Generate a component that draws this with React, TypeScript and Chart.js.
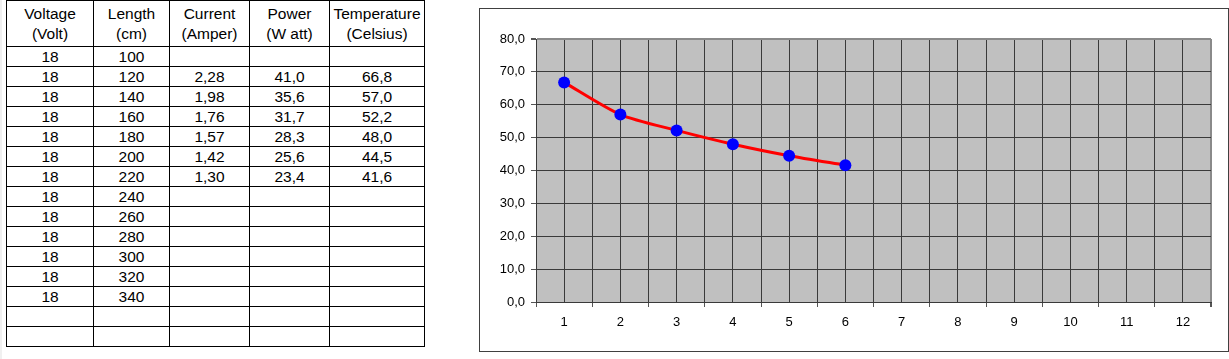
import React, { useEffect, useRef } from "react";
import { Chart, registerables } from "chart.js";

Chart.register(...registerables);

const headers: string[][] = [
  ["Voltage", "(Volt)"],
  ["Length", "(cm)"],
  ["Current", "(Amper)"],
  ["Power", "(W att)"],
  ["Temperature", "(Celsius)"],
];
const voltage = ["18", "18", "18", "18", "18", "18", "18", "18", "18", "18", "18", "18", "18", "", ""];
const lengthCm = ["100", "120", "140", "160", "180", "200", "220", "240", "260", "280", "300", "320", "340", "", ""];
const current = ["", "2,28", "1,98", "1,76", "1,57", "1,42", "1,30"];
const power = ["", "41,0", "35,6", "31,7", "28,3", "25,6", "23,4"];
const temperatureText = ["", "66,8", "57,0", "52,2", "48,0", "44,5", "41,6"];

const xPoints = [1, 2, 3, 4, 5, 6];
const temperature = [66.8, 57.0, 52.2, 48.0, 44.5, 41.6];
const xMin = 0.5;
const xMax = 12.5;
const yMin = 0;
const yMax = 80;
const yStep = 10;

const FONT = "Arial, 'Liberation Sans', sans-serif";

function DataTable() {
  const colW = [87, 76, 80, 80, 95];
  const cell: React.CSSProperties = {
    border: "1px solid #000",
    padding: 0,
    textAlign: "center",
    verticalAlign: "middle",
    fontSize: 15.5,
    lineHeight: "20px",
    color: "#000",
    overflow: "hidden",
    whiteSpace: "nowrap",
  };
  const dcell: React.CSSProperties = { ...cell, lineHeight: "18px" };
  return (
    <table
      style={{
        position: "absolute",
        left: 6,
        top: 0,
        width: 419,
        borderCollapse: "collapse",
        tableLayout: "fixed",
        fontFamily: FONT,
      }}
    >
      <colgroup>
        {colW.map((w, i) => (
          <col key={i} style={{ width: w }} />
        ))}
      </colgroup>
      <tbody>
        <tr style={{ height: 46 }}>
          {headers.map((h, i) => (
            <td key={i} style={cell}>
              {h[0]}
              <br />
              {h[1]}
            </td>
          ))}
        </tr>
        {voltage.map((v, r) => (
          <tr key={r} style={{ height: 20 }}>
            <td style={dcell}>{v}</td>
            <td style={dcell}>{lengthCm[r]}</td>
            <td style={dcell}>{current[r] ?? ""}</td>
            <td style={dcell}>{power[r] ?? ""}</td>
            <td style={dcell}>{temperatureText[r] ?? ""}</td>
          </tr>
        ))}
      </tbody>
    </table>
  );
}

function TempChart() {
  const ref = useRef<HTMLCanvasElement | null>(null);
  useEffect(() => {
    if (!ref.current) return;
    const bgPlugin = {
      id: "plotBg",
      beforeDraw(chart: any) {
        const { ctx, chartArea } = chart;
        ctx.save();
        ctx.fillStyle = "#C0C0C0";
        ctx.fillRect(chartArea.left, chartArea.top, chartArea.right - chartArea.left, chartArea.bottom - chartArea.top);
        ctx.restore();
      },
    };
    const chart = new Chart(ref.current, {
      type: "line",
      data: {
        datasets: [
          {
            data: xPoints.map((x, i) => ({ x, y: temperature[i] })),
            borderColor: "#FF0000",
            borderWidth: 3,
            tension: 0.25,
            pointRadius: 6,
            pointBackgroundColor: "#0000FF",
            pointBorderColor: "#0000FF",
            pointBorderWidth: 0,
            fill: false,
          },
        ],
      },
      options: {
        animation: false,
        responsive: false,
        devicePixelRatio: 1,
        layout: { padding: { top: 30, right: 17, left: 0, bottom: 0 } },
        plugins: { legend: { display: false }, tooltip: { enabled: false } },
        scales: {
          x: {
            type: "linear",
            min: xMin,
            max: xMax,
            afterFit(scale: any) {
              scale.height = 49;
            },
            ticks: {
              stepSize: 0.5,
              autoSkip: false,
              maxRotation: 0,
              padding: 8,
              color: "#000",
              font: { family: FONT, size: 13 },
              callback: (v: any) => (Number.isInteger(Number(v)) ? String(v) : ""),
            },
            grid: {
              color: (ctx: any) => (ctx.tick && ctx.tick.value === xMax ? "#8a8a8a" : "#3a3a3a"),
              lineWidth: (ctx: any) => (ctx.tick && ctx.tick.value === xMax ? 2 : 1),
              tickLength: 5,
              tickColor: (ctx: any) =>
                ctx.tick && Number.isInteger(ctx.tick.value) ? "rgba(0,0,0,0)" : "#555",
            },
            border: { display: true, color: "#3a3a3a", width: 1 },
          },
          y: {
            min: yMin,
            max: yMax,
            afterFit(scale: any) {
              scale.width = 56;
            },
            ticks: {
              stepSize: yStep,
              padding: 6,
              color: "#000",
              font: { family: FONT, size: 13 },
              callback: (v: any) => Number(v).toFixed(1).replace(".", ","),
            },
            grid: {
              color: (ctx: any) => (ctx.tick && ctx.tick.value === yMax ? "#8a8a8a" : "#3a3a3a"),
              lineWidth: (ctx: any) => (ctx.tick && ctx.tick.value === yMax ? 2 : 1),
              tickLength: 5,
              tickColor: "#555",
            },
            border: { display: true, color: "#3a3a3a", width: 1 },
          },
        },
      },
      plugins: [bgPlugin],
    } as any);
    return () => chart.destroy();
  }, []);
  return (
    <div
      style={{
        position: "absolute",
        left: 479,
        top: 8,
        width: 748,
        height: 342,
        border: "1px solid #404040",
        background: "#fff",
      }}
    >
      <canvas ref={ref} width={748} height={342} style={{ display: "block", width: 748, height: 342 }} />
    </div>
  );
}

export default function App() {
  return (
    <div style={{ position: "absolute", left: 0, top: 0, width: 1229, height: 359, background: "#fff", overflow: "hidden" }}>
      <div style={{ position: "absolute", left: 0, top: 0, width: 2, height: 359, background: "#f0f0f0" }} />
      <DataTable />
      <TempChart />
    </div>
  );
}
